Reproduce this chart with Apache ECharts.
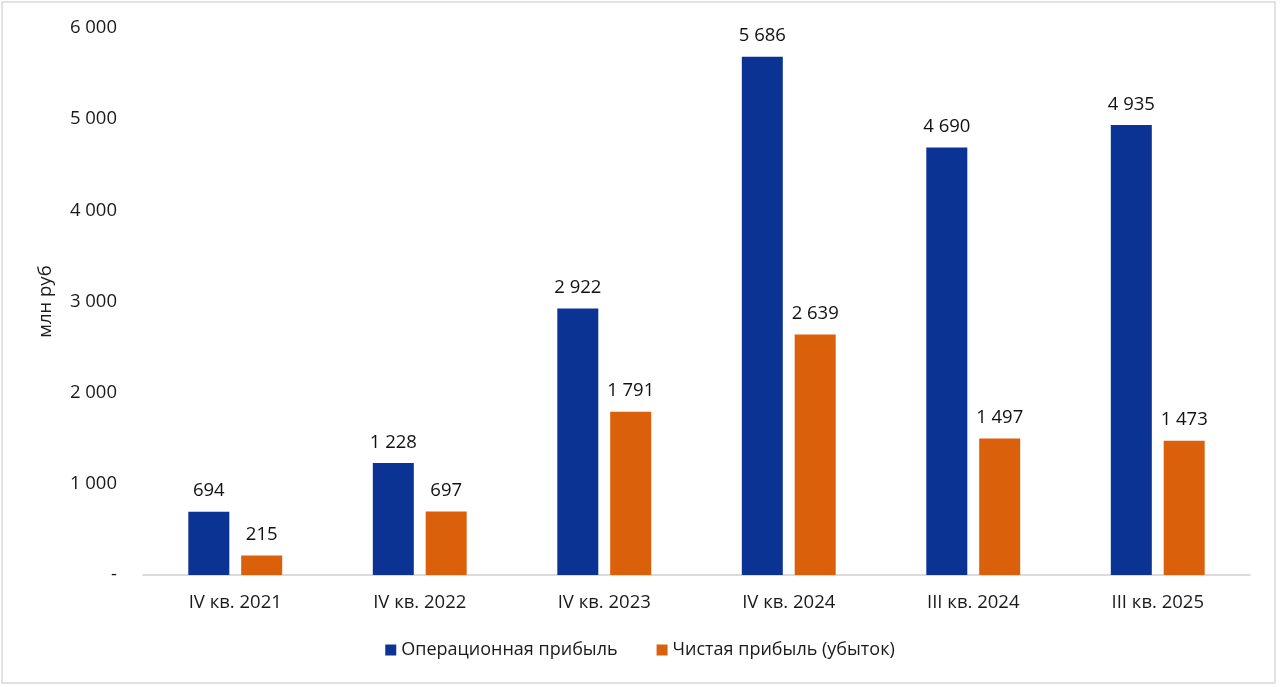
<!DOCTYPE html>
<html>
<head>
<meta charset="utf-8">
<script src="https://cdn.jsdelivr.net/npm/echarts@6/dist/echarts.min.js"></script>
<style>
html,body{margin:0;padding:0;background:#fff;}
#chart{width:1280px;height:687px;}
</style>
</head>
<body>
<div id="chart"></div>
<script>
const categories = ['IV кв. 2021','IV кв. 2022','IV кв. 2023','IV кв. 2024','III кв. 2024','III кв. 2025'];
const operatingProfit = [694, 1228, 2922, 5686, 4690, 4935];
const netProfit = [215, 697, 1791, 2639, 1497, 1473];
const seriesNames = ['Операционная прибыль', 'Чистая прибыль (убыток)'];
const yAxisName = 'млн руб';

function fmt(v){
  if (v === 0) return '-';
  return String(v).replace(/\B(?=(\d{3})+(?!\d))/g, ' ');
}

const chart = echarts.init(document.getElementById('chart'));
const FONT = '"Open Sans", "Noto Sans", sans-serif';
const FS = 18.5;
chart.setOption({
  animation:false,
  textStyle:{fontFamily:FONT},
  graphic:[{type:'rect',shape:{x:2,y:2,width:1273,height:681},style:{fill:'none',stroke:'#d9d9d9',lineWidth:1.5},silent:true}],
  grid:{left:143,right:30,top:28,bottom:112},
  legend:{
    top:636,left:'center',itemWidth:11,itemHeight:11,itemGap:39,
    icon:'rect',
    textStyle:{fontSize:18,color:'#1a1a1a',fontFamily:FONT}
  },
  xAxis:{
    type:'category',data:categories,
    axisTick:{show:false},
    axisLine:{lineStyle:{color:'#d0d0d0',width:1.5}},
    axisLabel:{fontSize:FS,color:'#1a1a1a',margin:18,fontFamily:FONT}
  },
  yAxis:{
    type:'value',min:0,max:6000,interval:1000,
    name:yAxisName,nameLocation:'middle',nameGap:88,nameRotate:90,
    nameTextStyle:{fontSize:FS,color:'#1a1a1a',fontFamily:FONT},
    splitLine:{show:false},
    axisLine:{show:false},axisTick:{show:false},
    axisLabel:{fontSize:FS,color:'#1a1a1a',margin:26,formatter:fmt,fontFamily:FONT}
  },
  series:[
    {name:seriesNames[0],type:'bar',data:operatingProfit,barWidth:41,barGap:'29%',
     itemStyle:{color:'#0B3394'},
     label:{show:true,position:'top',distance:11,fontSize:FS,color:'#111',formatter:p=>fmt(p.value),fontFamily:FONT}},
    {name:seriesNames[1],type:'bar',data:netProfit,barWidth:41,
     itemStyle:{color:'#DB600C'},
     label:{show:true,position:'top',distance:11,fontSize:FS,color:'#111',formatter:p=>fmt(p.value),fontFamily:FONT}}
  ]
});
</script>
</body>
</html>
